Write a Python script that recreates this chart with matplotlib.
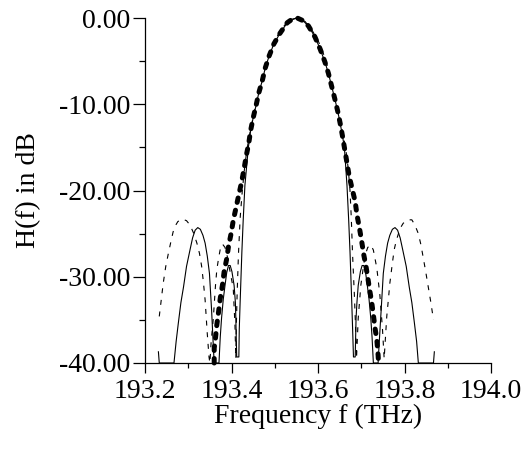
import matplotlib
matplotlib.use("Agg")
import matplotlib.pyplot as plt
from matplotlib.ticker import MultipleLocator, FormatStrFormatter

plt.rcParams['font.family'] = ['Liberation Serif', 'DejaVu Serif']
plt.rcParams['axes.unicode_minus'] = False

# ---- data ----
# thick dotted curve (main lobe only)
dotted_f = [193.360, 193.360, 193.363, 193.366, 193.370, 193.374, 193.379, 193.383, 193.389,
            193.393, 193.399, 193.404, 193.410, 193.416, 193.423, 193.429, 193.434, 193.440,
            193.444, 193.450, 193.457, 193.463, 193.471, 193.478, 193.487, 193.498, 193.512,
            193.529, 193.540, 193.552, 193.565, 193.578, 193.593, 193.605, 193.616, 193.624,
            193.632, 193.639, 193.646, 193.652, 193.657, 193.662, 193.667, 193.672, 193.678,
            193.686, 193.690, 193.696, 193.701, 193.706, 193.711, 193.716, 193.720, 193.724,
            193.728, 193.732, 193.736, 193.739, 193.740]
dotted_db = [-40.0, -38.3, -37.1, -35.6, -34.1, -32.5, -31.0, -29.4, -27.9,
             -26.5, -25.0, -23.5, -22.1, -20.7, -19.1, -17.5, -16.0, -14.5,
             -13.1, -11.6, -10.1, -8.7, -7.3, -5.8, -4.4, -3.0, -1.78,
             -0.54, -0.15, 0.0, -0.3, -0.93, -2.2, -3.6, -5.1, -6.4,
             -8.0, -9.4, -10.9, -12.4, -13.8, -15.3, -16.8, -18.3, -19.6,
             -21.3, -22.8, -24.4, -25.9, -27.5, -28.8, -30.4, -31.7, -32.9,
             -34.4, -36.0, -37.3, -39.1, -40.0]

# thin solid curve
solid_f = [193.231, 193.233, 193.267, 193.272, 193.277, 193.283, 193.289, 193.296, 193.304,
           193.310, 193.316, 193.322, 193.328, 193.334, 193.339, 193.344, 193.349, 193.354,
           193.358, 193.360, 193.371, 193.374, 193.377, 193.381, 193.385, 193.389, 193.393,
           193.397, 193.401, 193.406, 193.409, 193.410, 193.412, 193.417, 193.418, 193.420,
           193.422, 193.424, 193.427, 193.431, 193.435, 193.439, 193.444, 193.450, 193.457,
           193.463, 193.471, 193.478, 193.487, 193.498, 193.512, 193.529, 193.540, 193.551,
           193.565, 193.578, 193.593, 193.605, 193.616, 193.624, 193.632, 193.639, 193.646,
           193.652, 193.657, 193.661, 193.664, 193.667, 193.671, 193.674, 193.676, 193.678,
           193.680, 193.682, 193.686, 193.688, 193.690, 193.693, 193.698, 193.702, 193.706,
           193.710, 193.714, 193.718, 193.722, 193.725, 193.728, 193.739, 193.741, 193.746,
           193.751, 193.756, 193.761, 193.766, 193.772, 193.778, 193.784, 193.790, 193.796,
           193.804, 193.811, 193.817, 193.823, 193.828, 193.832, 193.867, 193.869]
solid_db = [-38.7, -40.0, -40.0, -37.5, -35.4, -33.0, -31.2, -28.8, -26.9,
            -25.5, -24.6, -24.3, -24.5, -25.2, -26.1, -27.6, -29.6, -33.9,
            -38.1, -40.0, -40.0, -37.0, -34.8, -32.6, -31.0, -29.5, -28.7,
            -28.7, -29.4, -31.0, -33.0, -34.8, -39.3, -39.3, -36.0, -32.9,
            -30.0, -27.1, -23.5, -19.4, -17.2, -15.0, -13.1, -11.6, -10.1,
            -8.7, -7.3, -5.8, -4.4, -3.0, -1.78, -0.54, -0.15, 0.0,
            -0.3, -0.93, -2.2, -3.6, -5.1, -6.4, -8.0, -9.4, -10.9,
            -12.4, -13.8, -15.0, -17.2, -19.4, -23.5, -27.1, -30.0, -32.9,
            -36.0, -39.3, -39.3, -34.8, -33.0, -31.0, -29.4, -28.7, -28.7,
            -29.5, -31.0, -32.6, -34.8, -37.0, -40.0, -40.0, -38.1, -33.9,
            -29.6, -27.6, -26.1, -25.2, -24.5, -24.3, -24.6, -25.5, -26.9,
            -28.8, -31.2, -33.0, -35.4, -37.5, -40.0, -40.0, -38.7]

# thin dashed curve
dashed_f = [193.233, 193.238, 193.242, 193.248, 193.254, 193.260, 193.265, 193.270, 193.276,
            193.286, 193.296, 193.304, 193.312, 193.320, 193.326, 193.331, 193.335, 193.339,
            193.344, 193.348, 193.350, 193.353, 193.358, 193.363, 193.366, 193.370, 193.374,
            193.379, 193.385, 193.391, 193.397, 193.404, 193.408, 193.410, 193.411, 193.413,
            193.416, 193.420, 193.425, 193.430, 193.435, 193.440, 193.446, 193.452, 193.458,
            193.465, 193.472, 193.480, 193.489, 193.500, 193.514, 193.530, 193.550, 193.570,
            193.586, 193.600, 193.611, 193.620, 193.628, 193.635, 193.642, 193.648, 193.654,
            193.660, 193.665, 193.670, 193.674, 193.677, 193.680, 193.684, 193.687, 193.689,
            193.693, 193.699, 193.704, 193.709, 193.715, 193.722, 193.728, 193.736, 193.743,
            193.749, 193.753, 193.756, 193.759, 193.763, 193.766, 193.771, 193.776, 193.781,
            193.786, 193.791, 193.797, 193.807, 193.817, 193.824, 193.832, 193.838, 193.843,
            193.849, 193.855, 193.861, 193.867]
dashed_db = [-34.6, -32.5, -30.8, -28.8, -27.3, -25.9, -24.8, -24.1, -23.6,
             -23.3, -23.5, -24.0, -24.9, -26.1, -27.3, -28.8, -30.6, -32.7,
             -36.6, -39.3, -40.0, -37.5, -34.8, -31.0, -29.2, -27.9, -26.8,
             -26.2, -26.6, -27.8, -29.5, -31.3, -35.6, -39.5, -36.0, -32.0,
             -27.5, -23.2, -20.0, -17.5, -15.5, -14.0, -12.5, -11.0, -9.6,
             -8.2, -6.8, -5.3, -3.9, -2.6, -1.4, -0.4, 0.0, -0.4,
             -1.4, -2.6, -3.9, -5.3, -6.8, -8.2, -9.6, -11.0, -12.5,
             -14.0, -15.5, -17.5, -20.0, -23.2, -27.5, -32.0, -36.0, -39.5,
             -34.8, -31.0, -29.2, -27.5, -26.6, -26.3, -26.9, -29.0, -32.1,
             -36.0, -39.5, -37.0, -34.6, -32.5, -30.8, -28.8, -26.9, -25.8,
             -25.0, -24.3, -23.8, -23.4, -23.4, -24.0, -25.0, -26.3, -27.7,
             -29.4, -31.2, -33.0, -35.0]

x_ticks = [193.2, 193.4, 193.6, 193.8, 194.0]
y_ticks = [0, -10, -20, -30, -40]
x_label = "Frequency f (THz)"
y_label = "H(f) in dB"

# ---- figure ----
fig = plt.figure(figsize=(5.31, 4.54), dpi=100)
ax = fig.add_axes([145/531, 1 - 363/454, (491 - 145)/531, (363 - 18)/454])

ax.plot(dashed_f, dashed_db, color='black', lw=0.8, linestyle=(0, (4.5, 6.0)),
        clip_on=False, zorder=2)
ax.plot(solid_f, solid_db, color='black', lw=0.8, clip_on=False, zorder=3)
ax.plot(dotted_f, dotted_db, color='black', lw=3.6, linestyle=(0, (0.9, 1.6)),
        dash_capstyle='round', clip_on=False, zorder=4)

ax.set_xlim(193.2, 194.0)
ax.set_ylim(-40, 0)
ax.set_xticks(x_ticks)
ax.set_yticks(y_ticks)
ax.xaxis.set_minor_locator(MultipleLocator(0.1))
ax.yaxis.set_minor_locator(MultipleLocator(5))
ax.xaxis.set_major_formatter(FormatStrFormatter('%.1f'))
ax.yaxis.set_major_formatter(FormatStrFormatter('%.2f'))

for s in ['top', 'right']:
    ax.spines[s].set_visible(False)
for s in ['left', 'bottom']:
    ax.spines[s].set_linewidth(0.9)

ax.tick_params(axis='both', which='both', direction='out', width=0.9, labelsize=20)
ax.tick_params(axis='x', which='major', length=7.5, pad=4)
ax.tick_params(axis='x', which='minor', length=3.8)
ax.tick_params(axis='y', which='major', length=8.5, pad=2)
ax.tick_params(axis='y', which='minor', length=4.3)

ax.set_xlabel(x_label, fontsize=20, labelpad=0)
ax.set_ylabel(y_label, fontsize=20, labelpad=13)

fig.savefig("out.png", dpi=100)
